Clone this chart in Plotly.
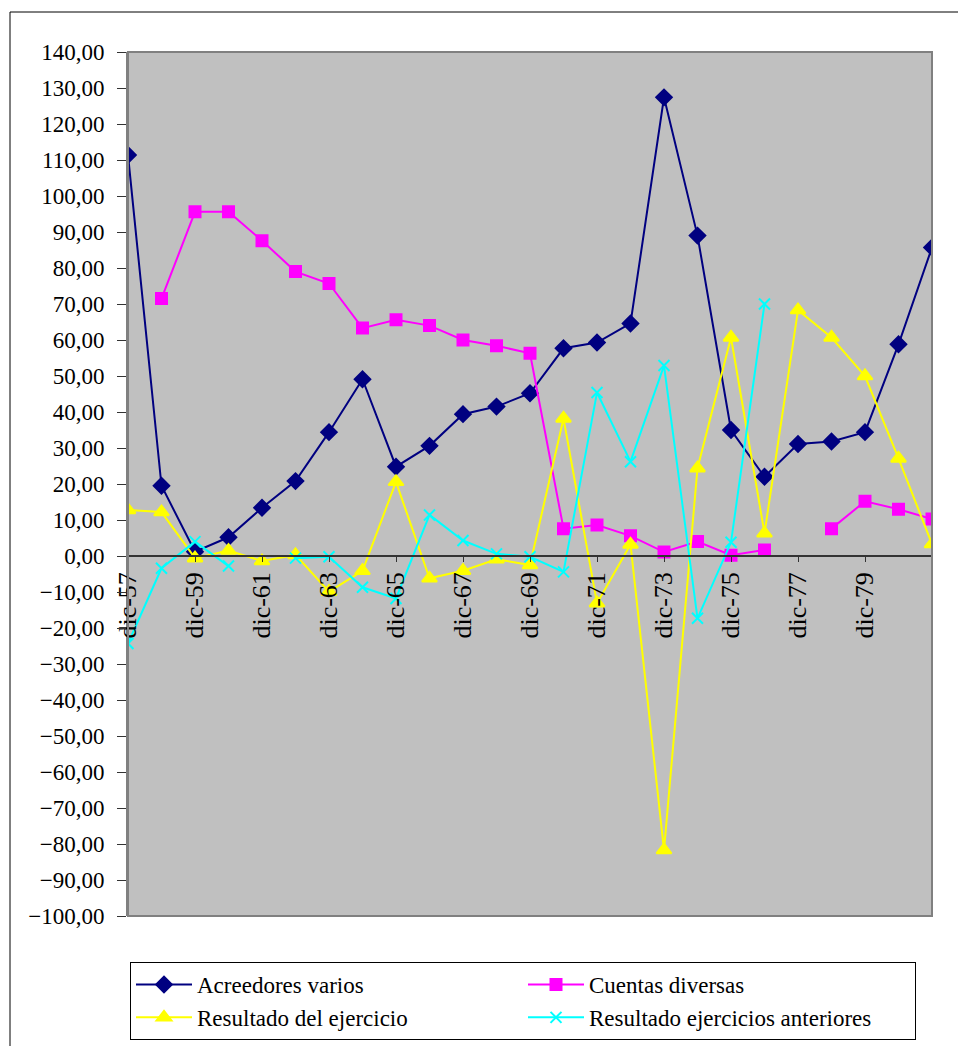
import plotly.graph_objects as go

categories = [f"dic-{y}" for y in range(57, 82)]
tick_labels = [f"dic-{y}" for y in range(57, 81, 2)]

acreedores = [111.4, 19.5, 1.2, 5.2, 13.4, 20.8, 34.4, 49.1, 24.8, 30.6, 39.4, 41.5, 45.2,
              57.7, 59.3, 64.6, 127.4, 89.0, 35.0, 22.0, 31.1, 31.8, 34.4, 58.8, 85.7]
cuentas = [None, 71.5, 95.6, 95.6, 87.6, 79.0, 75.7, 63.3, 65.6, 64.0, 60.0, 58.4, 56.3,
           7.6, 8.6, 5.6, 1.1, 4.0, 0.2, 1.7, None, 7.6, 15.2, 13.0, 10.3]
resultado = [12.8, 12.2, -0.6, 1.5, -1.4, 0.3, -9.9, -4.1, 20.6, -6.2, -4.1, -0.9, -2.5,
             38.2, -13.1, 3.2, -81.7, 24.4, 60.7, 6.3, 68.3, 60.7, 50.0, 27.1, 3.3]
anteriores = [-24.3, -3.4, 4.0, -2.8, None, -0.6, -0.2, -8.7, -11.8, 11.4, 4.3, 0.6, -0.2,
              -4.4, 45.4, 26.2, 52.9, -17.3, 3.8, 70.0, None, None, None, None, None]

series = [
    ("Acreedores varios", acreedores, "#000080", "diamond", 12),
    ("Cuentas diversas", cuentas, "#FF00FF", "square", 11),
    ("Resultado del ejercicio", resultado, "#FFFF00", "triangle-up", 13),
    ("Resultado ejercicios anteriores", anteriores, "#00FFFF", "x-thin", 11),
]

FONT = "Liberation Serif"

fig = go.Figure()
for name, vals, color, sym, size in series:
    fig.add_trace(go.Scatter(
        x=categories, y=vals, name=name, mode="lines+markers",
        connectgaps=False,
        line=dict(color=color, width=2),
        marker=dict(symbol=sym, size=size, color=color,
                    line=dict(color=color, width=2)),
    ))

L, R, T, B = 128, 26, 52, 130
W, H = 958, 1046
pw, ph = W - L - R, H - T - B
zero_frac = (100) / 240.0

fig.update_layout(
    width=W, height=H,
    margin=dict(l=L, r=R, t=T, b=B, pad=0, autoexpand=False),
    paper_bgcolor="white",
    plot_bgcolor="#C0C0C0",
    separators=",.",
    font=dict(family=FONT, size=22, color="black"),
    showlegend=True,
    legend=dict(
        orientation="h",
        x=(130 - L) / pw, y=(T + ph - 962) / ph,
        xanchor="left", yanchor="top",
        bgcolor="white", bordercolor="black", borderwidth=1,
        font=dict(family=FONT, size=23, color="black"),
        entrywidth=321, entrywidthmode="pixels",
        itemwidth=56,
        traceorder="normal",
    ),
    xaxis=dict(
        type="category",
        range=[0, 24],
        tickmode="array",
        tickvals=tick_labels,
        ticktext=tick_labels,
        tickangle=-90,
        ticks="outside", ticklen=5, tickcolor="#333333",
        showline=True, linecolor="#333333", linewidth=1.5,
        showgrid=False, zeroline=False,
        anchor="free", position=zero_frac,
        tickfont=dict(family=FONT, size=26, color="black"),
    ),
    yaxis=dict(
        range=[-100, 140],
        dtick=10, tick0=0,
        tickformat=".2f",
        ticks="outside", ticklen=9, tickcolor="#333333",
        ticklabelstandoff=8,
        showline=True, linecolor="#808080", linewidth=2,
        showgrid=False, zeroline=False,
        tickfont=dict(family=FONT, size=23, color="black"),
    ),
    shapes=[
        dict(type="rect", xref="paper", yref="paper", x0=0, x1=1, y0=0, y1=1,
             line=dict(color="#808080", width=2), layer="above"),
        dict(type="rect", xref="paper", yref="paper",
             x0=(10 - L) / pw, x1=(965 - L) / pw,
             y0=(T + ph - 1060) / ph, y1=(T + ph - 12) / ph,
             line=dict(color="black", width=1), layer="below"),
    ],
)

fig.write_html("out.html")
